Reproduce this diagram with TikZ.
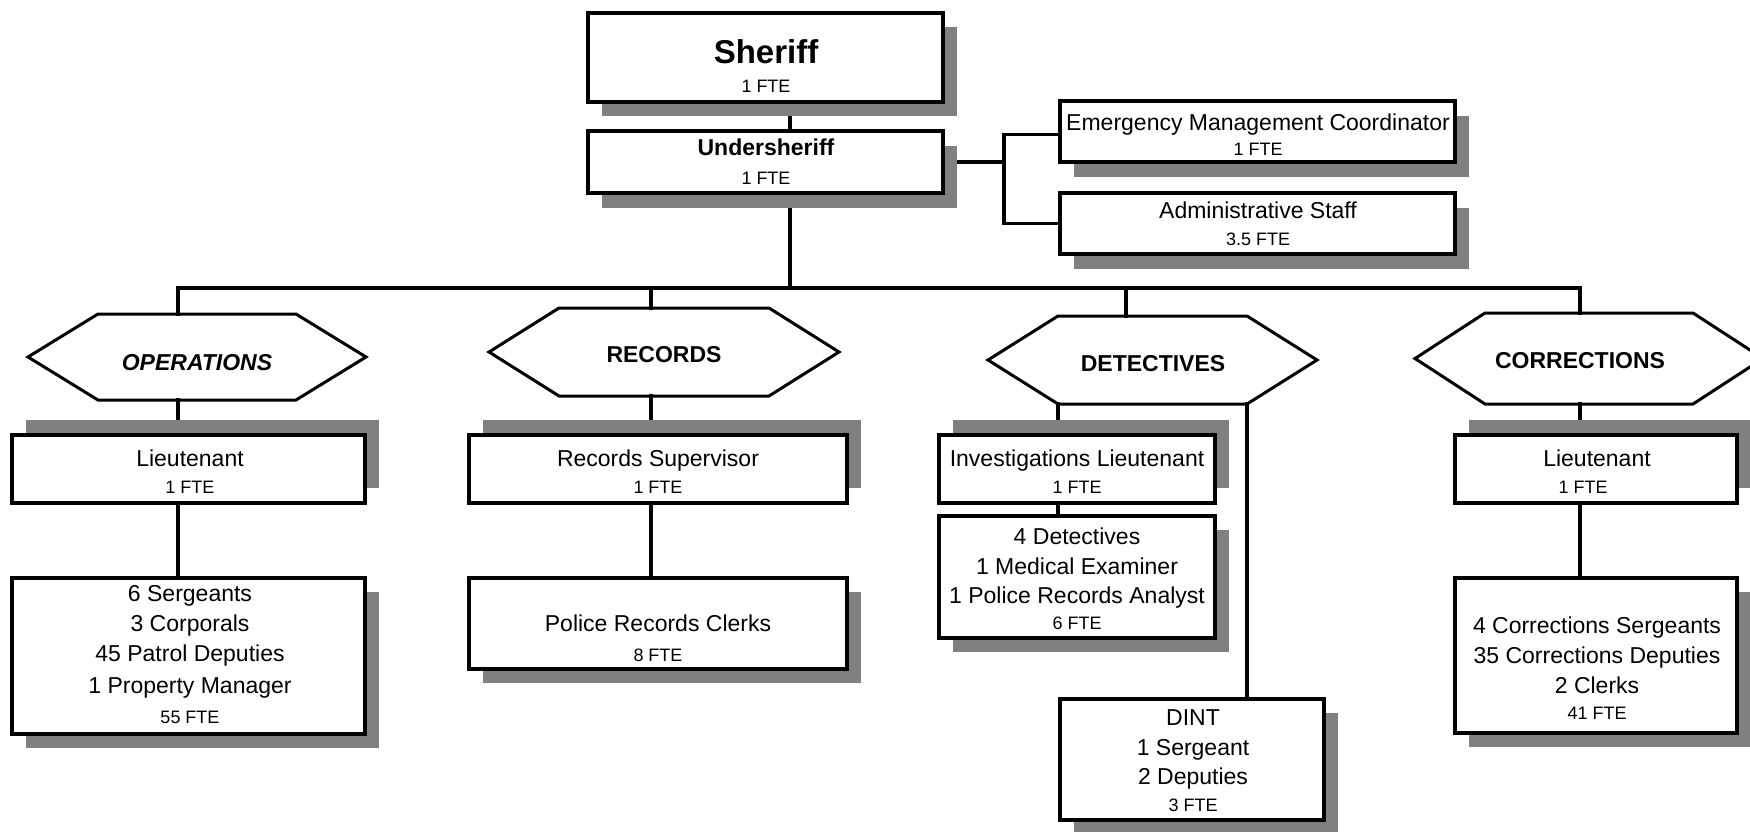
\documentclass[tikz,border=0pt]{standalone}
\usepackage{fontspec}
\setmainfont{Liberation Sans}
\pgfdeclarelayer{bg}
\pgfsetlayers{bg,main}
\definecolor{shadowgray}{HTML}{808080}
\tikzset{
  box/.style={draw=black, line width=3.5pt, fill=white, inner sep=0pt, outer sep=0pt},
  shd/.style={fill=shadowgray, draw=none},
  conn/.style={line width=3.2pt, line cap=rect},
  hexl/.style={draw=none, inner sep=0pt, outer sep=0pt},
  hexline/.style={line width=3pt, line join=miter},
  tm/.style={font=\fontsize{23}{28}\selectfont, anchor=base, inner sep=0pt},
  ts/.style={font=\fontsize{18}{22}\selectfont, anchor=base, inner sep=0pt},
  tb/.style={font=\fontsize{23}{28}\selectfont\bfseries, anchor=base, inner sep=0pt},
  tbig/.style={font=\fontsize{33}{38}\selectfont\bfseries, anchor=base, inner sep=0pt},
}
% name x1 y1 x2 y2 shadow-dy
\newcommand\orgbox[6]{%
  \fill[shd] (#2+14,#3+#6) rectangle (#4+14,#5+#6);
  \pgfmathsetmacro\bw{#4-#2}\pgfmathsetmacro\bh{#5-#3}%
  \node[box, minimum width=\bw pt, minimum height=\bh pt] (#1) at ({(#2+#4)/2},{(#3+#5)/2}) {};
}
% name x1 y1 x2 y2
\newcommand\hexbox[5]{%
  \pgfmathsetmacro\bw{#4-#2}\pgfmathsetmacro\bh{#5-#3}%
  \node[hexl, minimum width=\bw pt, minimum height=\bh pt] (#1) at ({(#2+#4)/2},{(#3+#5)/2}) {};
  \draw[hexline] (#1.west) -- ([xshift=70pt]#1.north west) -- ([xshift=-70pt]#1.north east)
     -- (#1.east) -- ([xshift=-70pt]#1.south east) -- ([xshift=70pt]#1.south west) -- cycle;
}
\begin{document}
\begin{tikzpicture}[x=1pt, y=-1pt]
\useasboundingbox (0,0) rectangle (1750,832);
\clip (0,0) rectangle (1750,832);

% top boxes
\orgbox{sheriff}{588}{13}{943}{102}{14}
\orgbox{under}{588}{131}{943}{193}{15}
\orgbox{emc}{1060}{101}{1455}{162}{15}
\orgbox{adm}{1060}{193}{1455}{254}{15}

% divisions
\hexbox{ops}{28}{314}{366}{400}
\hexbox{rec}{489}{308}{839}{396}
\hexbox{det}{988}{316}{1317}{404}
\hexbox{cor}{1415}{313}{1763}{404}

% lower boxes
\orgbox{oplt}{12}{435}{365}{503}{-15}
\orgbox{opbig}{12}{578}{365}{734}{14}
\orgbox{rsup}{469}{435}{847}{503}{-15}
\orgbox{prc}{469}{578}{847}{669}{14}
\orgbox{invlt}{939}{435}{1215}{503}{-15}
\orgbox{detbox}{939}{516}{1215}{638}{14}
\orgbox{dint}{1060}{699}{1324}{820}{14}
\orgbox{corlt}{1455}{435}{1737}{503}{-15}
\orgbox{corbig}{1455}{578}{1737}{733}{14}

% connectors
\coordinate (xs) at (790,0);
\coordinate (busL) at (178,288);
\coordinate (busR) at (1580,288);
\coordinate (br) at (651,288);
\coordinate (bd) at (1126,288);
\coordinate (bk) at (1004,0);
\coordinate (dl) at ([xshift=70pt]det.south west);
\coordinate (dr) at ([xshift=-70pt]det.south east);
\begin{pgfonlayer}{bg}
\draw[conn] (sheriff.south -| xs) -- (under.north -| xs);
\draw[conn] (under.south -| xs) -- (xs |- busL);
\draw[conn] (busL) -- (busR);
\draw[conn] (busL) -- (busL |- ops.north);
\draw[conn] (br) -- (br |- rec.north);
\draw[conn] (bd) -- (bd |- det.north);
\draw[conn] (busR) -- (busR |- cor.north);
\draw[conn] (under.east) -- (under.east -| bk);
\draw[conn] ([yshift=-3pt]emc.west) -- ([yshift=-3pt]emc.west -| bk) -- (adm.west -| bk) -- (adm.west);
\draw[conn] (busL |- ops.south) -- (busL |- oplt.north);
\draw[conn] (busL |- oplt.south) -- (busL |- opbig.north);
\draw[conn] (br |- rec.south) -- (br |- rsup.north);
\draw[conn] (br |- rsup.south) -- (br |- prc.north);
\draw[conn] (dl) -- (dl |- invlt.north);
\draw[conn] (dl |- invlt.south) -- (dl |- detbox.north);
\draw[conn] (dr) -- (dr |- dint.north);
\draw[conn] (busR |- cor.south) -- (busR |- corlt.north);
\draw[conn] (busR |- corlt.south) -- (busR |- corbig.north);
\end{pgfonlayer}

% texts
\node[tbig] (t1) at (766,64) {Sheriff};
\node[ts] (t2) at (766,92.5) {1 FTE};
\node[tb] (t3) at (766,155) {Undersheriff};
\node[ts] (t4) at (766,184.5) {1 FTE};
\node[tm] (t5) at (1258,131) {Emergency Management Coordinator};
\node[ts] (t6) at (1258,156) {1 FTE};
\node[tm] (t7) at (1258,218) {Administrative Staff};
\node[ts] (t8) at (1258,245.5) {3.5 FTE};

\node[tb, font=\fontsize{23}{28}\selectfont\bfseries\itshape] (h1) at (197,370) {OPERATIONS};
\node[tb] (h2) at (664,362) {RECORDS};
\node[tb] (h3) at (1153,371) {DETECTIVES};
\node[tb] (h4) at (1580,368) {CORRECTIONS};

\node[tm] (o1) at (190,466) {Lieutenant};
\node[ts] (o2) at (190,493.5) {1 FTE};
\node[tm] (o3) at (190,601) {6 Sergeants};
\node[tm] (o4) at (190,631) {3 Corporals};
\node[tm] (o5) at (190,661) {45 Patrol Deputies};
\node[tm] (o6) at (190,693) {1 Property Manager};
\node[ts] (o7) at (190,723.5) {55 FTE};

\node[tm] (r1) at (658,466) {Records Supervisor};
\node[ts] (r2) at (658,493.5) {1 FTE};
\node[tm] (r3) at (658,631) {Police Records Clerks};
\node[ts] (r4) at (658,661.5) {8 FTE};

\node[tm] (d1) at (1077,466) {Investigations Lieutenant};
\node[ts] (d2) at (1077,493.5) {1 FTE};
\node[tm] (d3) at (1077,544) {4 Detectives};
\node[tm] (d4) at (1077,574) {1 Medical Examiner};
\node[tm] (d5) at (1077,603) {1 Police Records Analyst};
\node[ts] (d6) at (1077,629.5) {6 FTE};
\node[tm] (d7) at (1193,725) {DINT};
\node[tm] (d8) at (1193,755) {1 Sergeant};
\node[tm] (d9) at (1193,784) {2 Deputies};
\node[ts] (d10) at (1193,811.5) {3 FTE};

\node[tm] (c1) at (1597,466) {Lieutenant};
\node[ts] (c2) at (1583,493.5) {1 FTE};
\node[tm] (c3) at (1597,633) {4 Corrections Sergeants};
\node[tm] (c4) at (1597,663) {35 Corrections Deputies};
\node[tm] (c5) at (1597,693) {2 Clerks};
\node[ts] (c6) at (1597,719.5) {41 FTE};
\end{tikzpicture}
\end{document}
